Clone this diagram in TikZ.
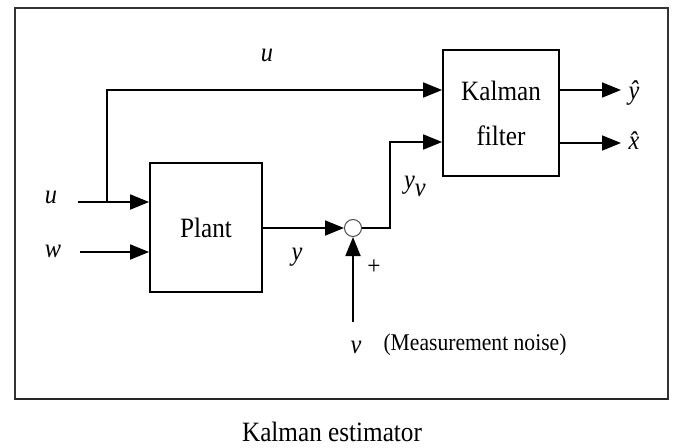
\documentclass[tikz,border=0pt]{standalone}
\usepackage{fontspec}
\setmainfont{Liberation Serif}[FakeStretch=0.9]
\usetikzlibrary{arrows.meta}
\begin{document}
\begin{tikzpicture}[x=1pt,y=-1pt,
  wire/.style={line width=1.8pt},
  arr/.style={wire,-{Triangle[length=19pt,width=15pt]}},
  blk/.style={draw,line width=1.8pt,rectangle,inner sep=0pt},
  lbl/.style={font=\fontsize{27}{27}\selectfont\itshape,inner sep=0pt},
  txt/.style={font=\fontsize{28}{45}\selectfont,align=center,inner sep=0pt},
  note/.style={font=\fontsize{24}{24}\selectfont,inner sep=0pt}]
\useasboundingbox (0,0) rectangle (677,447);
% outer frame
\draw[line width=1.4pt,black!80] (15,8) rectangle (668,399);
\draw[line width=2.4pt,black!85] (15,399) -- (668,399);
% blocks
\node[blk,minimum width=112pt,minimum height=129pt,txt] (plant) at (206,227.5) {Plant};
\node[blk,minimum width=116pt,minimum height=126pt,txt] (kf) at (501,113) {Kalman\\filter};
\node[circle,draw,line width=1pt,black!70,minimum size=17pt,inner sep=0pt] (sum) at (353,228) {};
% free ends
\coordinate (uin) at (78,202);
\coordinate (branch) at (107,202);
\coordinate (win) at (80,252);
\coordinate (yvc) at (390,142);
\coordinate (v0) at (353,322);
\coordinate (yhend) at (621,90);
\coordinate (xhend) at (621,143);
% connectors
\draw[wire] (uin) -- (branch);
\draw[arr] (branch) -- (plant.west |- branch);
\draw[arr] (branch) |- ([yshift=23pt]kf.west);
\draw[arr] (win) -- (plant.west |- win);
\draw[arr] (plant.east |- sum) -- (sum.west);
\draw[arr] (sum.east) -| (yvc) -- ([yshift=-29pt]kf.west);
\draw[arr] (v0) -- (sum.south);
\draw[arr] ([yshift=23pt]kf.east) -- (yhend);
\draw[arr] ([yshift=-30pt]kf.east) -- (xhend);
% labels
\node[lbl] (lu1) at (267,55) {u};
\node[lbl] (lu2) at (51,197) {u};
\node[lbl] (lw) at (53,251) {w};
\node[lbl] (ly) at (297,257) {y};
\node[font=\fontsize{26}{26}\selectfont,inner sep=0pt] (lplus) at (374,267) {+};
\node[lbl,anchor=base west] (lyv) at (404,188) {y\raisebox{-8pt}{v}};
\node[lbl] (lv) at (356,347) {v};
\node[note] (lnoise) at (475,345) {(Measurement noise)};
\node[lbl] (lyh) at (634,93) {\^{y}};
\node[lbl] (lxh) at (634,141) {\^{x}};
\node[txt] (ltitle) at (332,432) {Kalman estimator};
\end{tikzpicture}
\end{document}
